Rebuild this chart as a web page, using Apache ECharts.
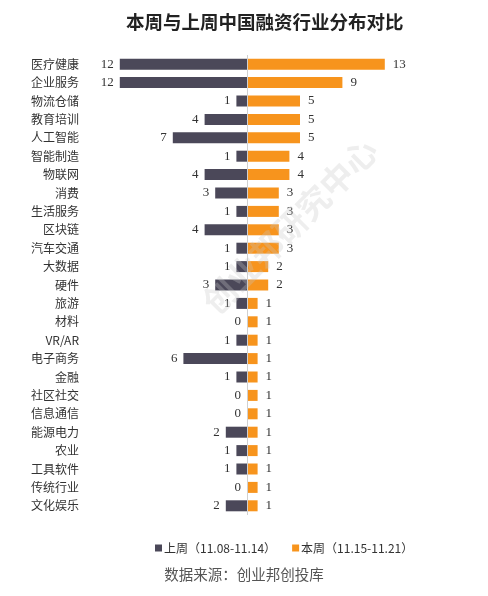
<!DOCTYPE html>
<html>
<head>
<meta charset="utf-8">
<script src="https://cdn.jsdelivr.net/npm/echarts@6/dist/echarts.min.js"></script>
<style>
  html, body { margin: 0; padding: 0; background: #fff; }
  #chart { width: 488px; height: 596px; }
</style>
</head>
<body>
<div id="chart"></div>
<script>
const categories = [
  '医疗健康', '企业服务', '物流仓储', '教育培训', '人工智能', '智能制造', '物联网',
  '消费', '生活服务', '区块链', '汽车交通', '大数据', '硬件', '旅游', '材料',
  'VR/AR', '电子商务', '金融', '社区社交', '信息通信', '能源电力', '农业',
  '工具软件', '传统行业', '文化娱乐'
];
const lastWeek = [12, 12, 1, 4, 7, 1, 4, 3, 1, 4, 1, 1, 3, 1, 0, 1, 6, 1, 0, 0, 2, 1, 1, 0, 2];
const thisWeek = [13, 9, 5, 5, 5, 4, 4, 3, 3, 3, 3, 2, 2, 1, 1, 1, 1, 1, 1, 1, 1, 1, 1, 1, 1];
const seriesNames = ['上周（11.08-11.14）', '本周（11.15-11.21）'];

const numFont = '"Liberation Serif", "DejaVu Serif", serif';
const cjkFont = '"Noto Sans CJK SC", sans-serif';

const chart = echarts.init(document.getElementById('chart'));

chart.setOption({
  animation: false,
  title: {
    text: '本周与上周中国融资行业分布对比',
    left: 121,
    top: 8,
    textStyle: { fontFamily: cjkFont, fontSize: 18.5, fontWeight: 'bold', color: '#222' },
  },
  legend: {
    top: 537,
    left: 150,
    itemWidth: 7,
    itemHeight: 7,
    itemGap: 16,
    icon: 'rect',
    textStyle: { fontFamily: cjkFont, fontSize: 12, color: '#333', padding: [0, 0, 0, -3] },
    data: seriesNames,
  },
  graphic: [
    {
      type: 'text',
      x: 290,
      y: 226,
      rotation: Math.PI / 4,
      z: 100,
      style: {
        text: '创业邦研究中心',
        font: 'bold 33px "Noto Sans CJK SC"',
        fill: 'rgba(200,200,200,0.3)',
        align: 'center',
        verticalAlign: 'middle',
      },
    },
    {
      type: 'text',
      left: 'center',
      top: 567,
      style: {
        text: '数据来源：创业邦创投库',
        font: '14.5px "Noto Sans CJK SC"',
        fill: '#555',
      },
    },
  ],
  grid: { left: 88, right: 82, top: 55, bottom: 81 },
  xAxis: {
    type: 'value',
    min: -15,
    max: 15,
    show: false,
  },
  yAxis: {
    type: 'category',
    data: categories,
    inverse: true,
    axisLine: { show: false },
    axisTick: { show: false },
    axisLabel: {
      margin: 9,
      fontFamily: cjkFont,
      fontSize: 12,
      color: '#333',
    },
  },
  series: [
    {
      name: seriesNames[0],
      type: 'bar',
      barWidth: 11,
      barGap: '-100%',
      data: lastWeek.map((v) => -v),
      itemStyle: { color: '#4b4859' },
      label: {
        show: true,
        position: 'left',
        distance: 6,
        formatter: (p) => Math.abs(p.value),
        fontFamily: numFont,
        fontSize: 13,
        color: '#333',
      },
      markLine: {
        silent: true,
        symbol: 'none',
        label: { show: false },
        lineStyle: { color: '#d0d0d0', type: 'solid', width: 1 },
        data: [{ xAxis: 0 }],
      },
    },
    {
      name: seriesNames[1],
      type: 'bar',
      barWidth: 11,
      data: thisWeek,
      itemStyle: { color: '#f7941d' },
      label: {
        show: true,
        position: 'right',
        distance: 8,
        fontFamily: numFont,
        fontSize: 13,
        color: '#333',
      },
    },
  ],
});
</script>
</body>
</html>
